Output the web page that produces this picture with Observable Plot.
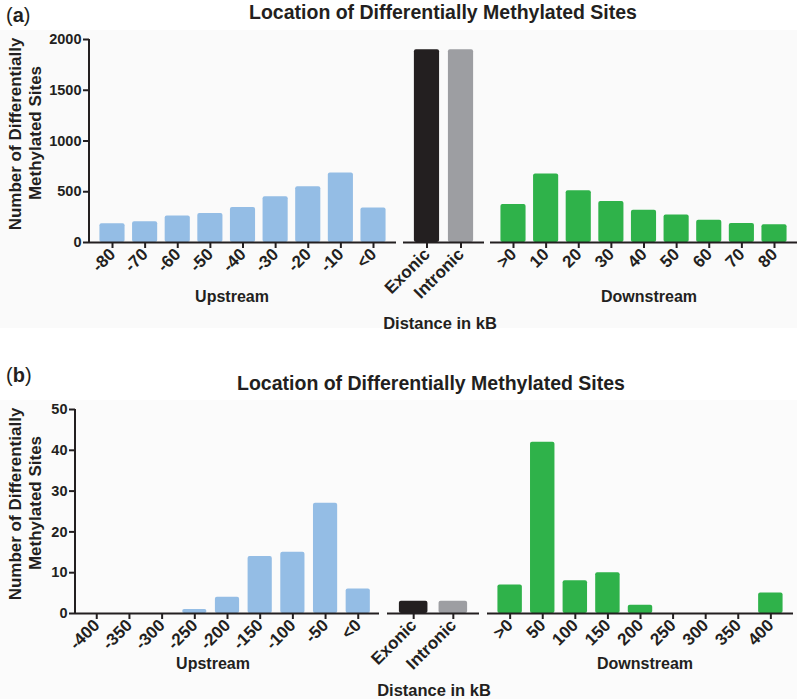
<!DOCTYPE html>
<html>
<head>
<meta charset="utf-8">
<script src="https://cdn.jsdelivr.net/npm/d3@7"></script>
<script src="https://cdn.jsdelivr.net/npm/@observablehq/plot@0.6"></script>
<style>
  body { margin: 0; background: #fff; }
  #root { position: relative; width: 800px; height: 699px; overflow: hidden; background: #fff;
          font-family: "Liberation Sans", Arial, Helvetica, sans-serif; color: #231f20; }
  .seg { position: absolute; }
  #overlay { position: absolute; left: 0; top: 0; pointer-events: none; }
</style>
</head>
<body>
<div id="root"></div>
<script>
// ---------- Data ----------
const upstreamA = ["-80", "-70", "-60", "-50", "-40", "-30", "-20", "-10", "<0"];
const upstreamAValues = [185, 205, 260, 285, 345, 450, 550, 685, 340];
const genicCats = ["Exonic", "Intronic"];
const genicAValues = [1900, 1900];
const downstreamA = [">0", "10", "20", "30", "40", "50", "60", "70", "80"];
const downstreamAValues = [375, 675, 510, 405, 318, 272, 218, 186, 176];
const yTicksA = [0, 500, 1000, 1500, 2000];

const upstreamB = ["-400", "-350", "-300", "-250", "-200", "-150", "-100", "-50", "<0"];
const upstreamBValues = [0, 0, 0, 1, 4, 14, 15, 27, 6];
const genicBValues = [3, 3];
const downstreamB = [">0", "50", "100", "150", "200", "250", "300", "350", "400"];
const downstreamBValues = [7, 42, 8, 10, 2, 0, 0, 0, 5];
const yTicksB = [0, 10, 20, 30, 40, 50];

const titleText = "Location of Differentially Methylated Sites";
const yLabel1 = "Number of Differentially";
const yLabel2 = "Methylated Sites";
const xTitle = "Distance in kB";

// ---------- Styles ----------
const INK = "#231f20";
const BLUE = "#94bde5";
const GREEN = "#2fb24a";
const GENIC = ["#231f20", "#9d9ea2"];
const FONT = "'Liberation Sans', Arial, Helvetica, sans-serif";

const root = document.getElementById("root");

function segment({cats, vals, fill, colorRange, yDomain, yTicks, left, top, width, height,
                  marginLeft, marginTop, marginBottom, pi, po, showY}) {
  const data = cats.map((c, i) => ({cat: c, v: vals[i]}));
  const marks = [
    Plot.barY(data, {x: "cat", y: "v", fill: colorRange ? "cat" : fill, rx: 2}),
    Plot.ruleY([0], {stroke: INK, strokeWidth: 2}),
    Plot.axisX({tickRotate: -45, tickSize: 6, tickPadding: 3, stroke: INK, strokeWidth: 2,
                fill: INK, fontSize: 17, fontWeight: "bold", label: null})
  ];
  if (showY) {
    marks.push(Plot.axisY({ticks: yTicks, tickSize: 6, tickPadding: 2, stroke: INK, strokeWidth: 2,
                           fill: INK, fontSize: 14.5, fontWeight: "bold", label: null,
                           tickFormat: d => String(d)}));
  }
  const opts = {
    width, height, marginLeft, marginRight: 0, marginTop, marginBottom,
    style: {background: "transparent", overflow: "visible", fontFamily: FONT, fontWeight: "bold",
            fontSize: "16px", color: INK},
    x: {domain: cats, paddingInner: pi, paddingOuter: po, round: false, label: null},
    y: {domain: yDomain, label: null, axis: showY ? undefined : null},
    marks
  };
  if (colorRange) opts.color = {domain: cats, range: colorRange};
  const chart = Plot.plot(opts);
  const sel = d3.select(chart);
  if (showY) {
    const y = chart.scale("y");
    sel.append("line")
      .attr("x1", marginLeft).attr("x2", marginLeft)
      .attr("y1", y.apply(yDomain[1])).attr("y2", y.apply(0) + 1)
      .attr("stroke", INK).attr("stroke-width", 2);
  }
  const wrap = document.createElement("div");
  wrap.className = "seg";
  wrap.style.left = left + "px";
  wrap.style.top = top + "px";
  wrap.appendChild(chart);
  root.appendChild(wrap);
}

// faint panel backgrounds
const bg = d3.select(root).append("div").style("position", "absolute").style("left", "0px").style("top", "0px");
bg.append("div").style("position", "absolute").style("left", "0px").style("top", "30px")
  .style("width", "797px").style("height", "298px").style("background", "#fafafa");
bg.append("div").style("position", "absolute").style("left", "0px").style("top", "400px")
  .style("width", "797px").style("height", "299px").style("background", "#fbfbfb");

// ---------- Panel (a) ----------
segment({cats: upstreamA, vals: upstreamAValues, fill: BLUE, yDomain: [0, 2000], yTicks: yTicksA,
  left: 0, top: 0, width: 396, height: 300, marginLeft: 89, marginTop: 39, marginBottom: 58,
  pi: 0.23, po: 0.32, showY: true});
segment({cats: genicCats, vals: genicAValues, colorRange: GENIC, yDomain: [0, 2000],
  left: 403, top: 0, width: 81, height: 300, marginLeft: 0, marginTop: 39, marginBottom: 58,
  pi: 0.26, po: 0.32, showY: false});
segment({cats: downstreamA, vals: downstreamAValues, fill: GREEN, yDomain: [0, 2000],
  left: 490, top: 0, width: 307, height: 300, marginLeft: 0, marginTop: 39, marginBottom: 58,
  pi: 0.23, po: 0.32, showY: false});

// ---------- Panel (b) ----------
segment({cats: upstreamB, vals: upstreamBValues, fill: BLUE, yDomain: [0, 50], yTicks: yTicksB,
  left: 0, top: 350, width: 379, height: 320, marginLeft: 75, marginTop: 59, marginBottom: 57,
  pi: 0.26, po: 0.28, showY: true});
segment({cats: genicCats, vals: genicBValues, colorRange: GENIC, yDomain: [0, 50],
  left: 387, top: 350, width: 92, height: 320, marginLeft: 0, marginTop: 59, marginBottom: 57,
  pi: 0.28, po: 0.30, showY: false});
segment({cats: downstreamB, vals: downstreamBValues, fill: GREEN, yDomain: [0, 50],
  left: 487, top: 350, width: 306, height: 320, marginLeft: 0, marginTop: 59, marginBottom: 57,
  pi: 0.25, po: 0.32, showY: false});

// ---------- Text overlay ----------
const ov = d3.select(root).append("svg").attr("id", "overlay")
  .attr("width", 800).attr("height", 699)
  .style("font-family", FONT).attr("fill", INK);

function txt(x, y, s, size, anchor = "middle", weight = "bold", rot = 0) {
  const t = ov.append("text").attr("x", x).attr("y", y).attr("font-size", size)
    .attr("font-weight", weight).attr("text-anchor", anchor).text(s);
  if (rot) t.attr("transform", `rotate(${rot},${x},${y})`);
  return t;
}
function panelLabel(x, y, letter) {
  const t = ov.append("text").attr("x", x).attr("y", y).attr("font-size", 20);
  t.append("tspan").attr("font-weight", "normal").text("(");
  t.append("tspan").attr("font-weight", "bold").text(letter);
  t.append("tspan").attr("font-weight", "normal").text(")");
}

// panel a text
panelLabel(6, 22, "a");
txt(443, 19, titleText, 19.5);
txt(21, 134, yLabel1, 17, "middle", "bold", -90);
txt(41, 133, yLabel2, 17, "middle", "bold", -90);
txt(232, 302, "Upstream", 16);
txt(649, 302, "Downstream", 16);
txt(440, 329, xTitle, 16.5);

// panel b text
panelLabel(6, 382, "b");
txt(431, 390, titleText, 19.5);
txt(21, 504, yLabel1, 17, "middle", "bold", -90);
txt(41, 503, yLabel2, 17, "middle", "bold", -90);
txt(213, 669, "Upstream", 16);
txt(645, 669, "Downstream", 16);
txt(434, 696, xTitle, 16.5);
</script>
</body>
</html>
